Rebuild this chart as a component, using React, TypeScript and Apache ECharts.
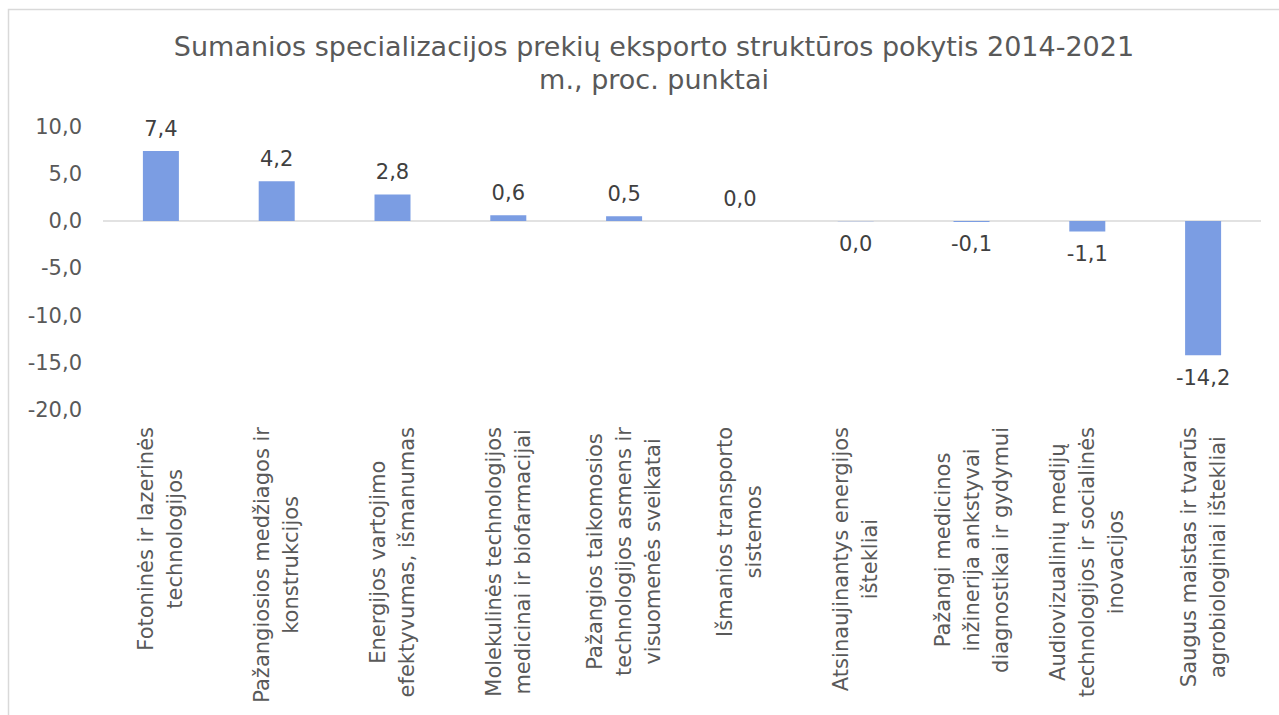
import React, { useEffect, useRef } from "react";
import * as echarts from "echarts";

const titleText = "Sumanios specializacijos prekių eksporto struktūros pokytis 2014-2021\nm., proc. punktai";

const categories: string[] = [
  "Fotoninės ir lazerinės\ntechnologijos",
  "Pažangiosios medžiagos ir\nkonstrukcijos",
  "Energijos vartojimo\nefektyvumas, išmanumas",
  "Molekulinės technologijos\nmedicinai ir biofarmacijai",
  "Pažangios taikomosios\ntechnologijos asmens ir\nvisuomenės sveikatai",
  "Išmanios transporto\nsistemos",
  "Atsinaujinantys energijos\ništekliai",
  "Pažangi medicinos\ninžinerija ankstyvai\ndiagnostikai ir gydymui",
  "Audiovizualinių medijų\ntechnologijos ir socialinės\ninovacijos",
  "Saugus maistas ir tvarūs\nagrobiologiniai ištekliai",
];

const values: number[] = [7.4, 4.2, 2.8, 0.6, 0.5, 0.0, -0.02, -0.1, -1.1, -14.2];

const yMin = -20;
const yMax = 10;
const yStep = 5;

const FONT = "Verdana, 'DejaVu Sans', sans-serif";

function fmt(v: number): string {
  let s = v.toFixed(1).replace(".", ",");
  if (s === "-0,0") s = "0,0";
  return s;
}

export default function App() {
  const ref = useRef<HTMLDivElement>(null);

  useEffect(() => {
    if (!ref.current) return;
    const chart = echarts.init(ref.current, undefined, { renderer: "svg" });
    chart.setOption({
      animation: false,
      backgroundColor: "#ffffff",
      graphic: [
        {
          type: "rect",
          shape: { x: 8.5, y: 9.5, width: 1400, height: 800 },
          style: { fill: "none", stroke: "#d9d9d9", lineWidth: 1.5 },
          silent: true,
          z: 0,
        },
      ],
      title: {
        text: titleText,
        left: 649,
        top: 25,
        textAlign: "center",
        textStyle: {
          fontFamily: FONT,
          fontSize: 27,
          fontWeight: "normal",
          color: "#595959",
          lineHeight: 33,
        },
      },
      grid: {
        left: 103,
        right: 18,
        top: 126.5,
        bottom: 305,
        containLabel: false,
        outerBoundsMode: "none",
      },
      xAxis: {
        type: "category",
        data: categories,
        axisLine: { show: false, onZero: false },
        axisTick: { show: false },
        splitLine: { show: false },
        axisLabel: {
          interval: 0,
          rotate: 90,
          margin: 17,
          color: "#595959",
          fontFamily: FONT,
          fontSize: 21,
          formatter: (val: string) =>
            val
              .split("\n")
              .map((l) => "{c|" + l + "}")
              .join("\n"),
          rich: {
            c: {
              align: "center",
              fontFamily: FONT,
              fontSize: 21,
              color: "#595959",
              lineHeight: 29,
            },
          },
        },
      },
      yAxis: {
        type: "value",
        min: yMin,
        max: yMax,
        interval: yStep,
        axisLine: { show: false },
        axisTick: { show: false },
        splitLine: { show: false },
        axisLabel: {
          margin: 21,
          color: "#595959",
          fontFamily: FONT,
          fontSize: 21,
          formatter: (v: number) => fmt(v),
        },
      },
      series: [
        {
          type: "bar",
          barWidth: 36,
          data: values.map((v) => ({
            value: v,
            label: { position: v >= 0 ? "top" : "bottom" },
          })),
          itemStyle: { color: "#7b9de3" },
          label: {
            show: true,
            distance: 12,
            color: "#404040",
            fontFamily: FONT,
            fontSize: 21,
            formatter: (p: any) => fmt(p.value as number),
          },
          markLine: {
            silent: true,
            symbol: "none",
            label: { show: false },
            lineStyle: { color: "#d9d9d9", width: 1.5, type: "solid" },
            data: [{ yAxis: 0 }],
            z: 1,
          },
          z: 2,
        },
      ],
    });
    return () => chart.dispose();
  }, []);

  return (
    <div
      ref={ref}
      style={{ position: "absolute", left: 0, top: 0, width: 1279, height: 715 }}
    />
  );
}
